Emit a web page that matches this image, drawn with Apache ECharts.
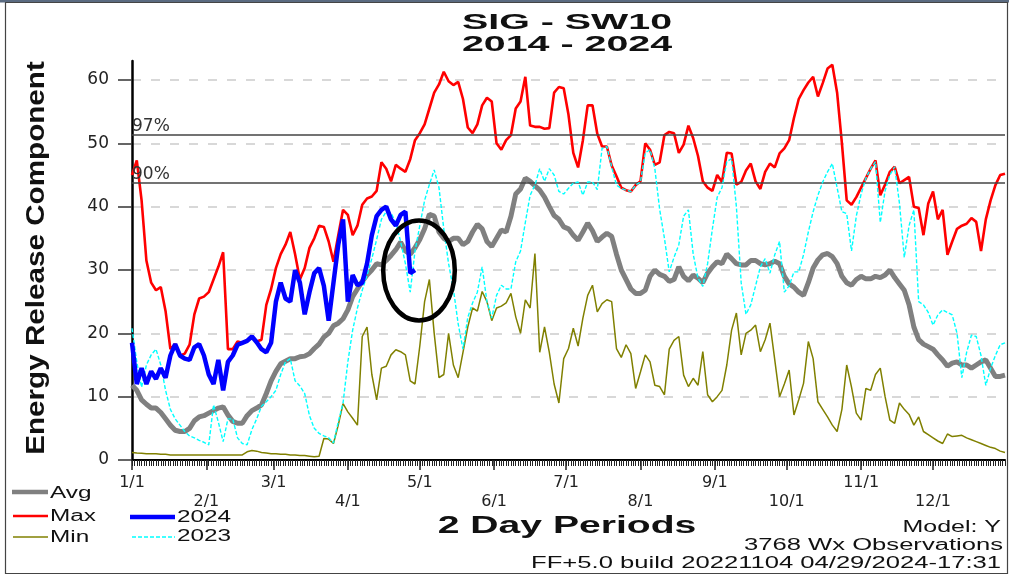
<!DOCTYPE html>
<html><head><meta charset="utf-8">
<script src="https://cdn.jsdelivr.net/npm/echarts@6/dist/echarts.min.js"></script>
<style>html,body{margin:0;padding:0;background:#fff}#c{width:1009px;height:578px}</style>
</head><body><div id="c"></div>
<script>
// ---------- data (2-day periods, Jan 1 .. Dec 31) ----------
const titleLine1 = 'SIG - SW10';
const titleLine2 = '2014 - 2024';
const yTickValues = [0, 10, 20, 30, 40, 50, 60];
const monthLabels = ['1/1','2/1','3/1','4/1','5/1','6/1','7/1','8/1','9/1','10/1','11/1','12/1'];
const monthStartDays = [0,31,59,90,120,151,181,212,243,273,304,334];
const percentileValues = [51.3, 43.8];
const percentileLabels = ['97%', '90%'];

const avgValues = [11.8,11,9.5,8.8,8.2,8.2,7.5,6.5,5.5,4.7,
4.5,4.5,5,6.2,6.8,7,7.4,7.8,8.2,8.4,
7.1,6.1,5.8,5.8,7,7.8,8.2,8.7,10.5,12.5,
14,15.2,15.6,16,16,16.3,16.4,16.8,17.6,18.3,
19.4,20,21.2,21.6,22.3,23.7,25.8,27,28.2,29.2,
30,31,30.8,31.5,32.3,33.2,34.4,33,32.5,33.5,
34.8,36.5,38.8,38.5,36,35,34.5,35,35,34,
34.5,36,37.2,36.5,34.5,33.7,35,36.3,36,38.5,
42,42.8,44.5,44,43.3,42.6,41.5,40,38.6,38,
36.8,36.5,35.5,34.7,36,37.4,36.2,34.5,35.2,35.8,
35.3,32.5,30,28.5,27,26.3,26.3,26.8,29,30,
29.3,29,28.2,28.5,30.5,29,28.3,29.2,28.7,28,
29.5,30.5,31.3,31,32.5,31.8,31,30.8,30.8,31.5,
31.5,31,30.8,31,31.4,31,29,27.8,27.3,26.5,
26,28,30.3,31.6,32.4,32.6,32.1,31,29,28,
27.6,28.5,29,28.6,28.6,29,28.8,29.2,30,28.8,
27.8,26.8,24.5,21,19,18.3,17.9,17.5,16.6,15.8,
14.8,15.3,15.5,15,15,14.5,15,15.5,15.8,14.5,
13.2,13.2,13.4];

const maxValues = [45,47.3,41,31.5,28,26.8,27.3,23.5,17.5,18.3,
16.5,16.8,18.2,23,25.5,25.8,26.5,28.5,30.5,32.8,
17.5,17.5,18.7,18.5,18.9,19.5,18.7,19,24.5,27,
30.3,32.5,34,36,32.5,28.5,30.3,33.5,35,37,
36.8,34.5,31.3,35.5,39.5,38.7,35.5,37,40.3,41.3,
41.6,42.5,47,46,44,46.6,46,45.5,47.5,50.5,
51.6,53,55.5,58,59.3,61.3,59.8,59.2,59.7,57,
52.5,51.6,53,56,57.2,56.6,50,49,50.5,51.3,
55.5,56.6,60.5,52.8,52.6,52.6,52.3,52.4,58,58.9,
58.7,54.5,48.5,46.2,50.5,56,56,51.5,49.5,49.5,
46.5,44.8,43,42.6,42.4,43.4,44,50,49,46.6,
47,51.3,51.8,51.6,48.5,49.8,52.8,50.8,48,44,
43,42.5,45,43.9,48.5,48.4,43.5,43.9,45.7,46.8,
44,42.8,45.5,46.8,46.2,48.4,49.2,50.5,54,57,
58.4,59.6,60.5,57.4,59.5,61.8,62.4,58,50,41,
40.3,41.5,43,44.5,46,47.3,41.8,43.5,45.5,46.3,
43.7,44.2,44.7,40,39.8,35.5,40.5,42.4,38,39.5,
32.4,34.5,36.5,37,37.3,38.2,37.6,33,38,41,
43.4,45,45.2];

const minValues = [1.2,1.1,1.05,1,1,1,0.9,0.9,0.8,0.8,
0.8,0.8,0.8,0.8,0.8,0.8,0.8,0.8,0.8,0.8,
0.8,0.8,0.8,0.8,1.3,1.5,1.4,1.2,1.1,1,
1,0.9,0.9,0.8,0.8,0.7,0.7,0.6,0.5,0.6,
3.4,3.3,2.6,5.5,8.9,7.6,6.6,5.5,19.5,21,
13.5,9.5,14.5,14.8,16.6,17.4,17.1,16.6,12.5,12,
18,25,28.5,20,13,13.5,20,15,13,17,
21,24,23.5,26.6,25,22,24,24.3,24.8,26.3,
22.6,20,25.3,24,32.6,17,21,17,12,9,
16,17.6,20.8,18,22.4,26,27.6,23.4,24.7,25.3,
25,17.6,16.2,18.2,16.8,11.3,13.9,16.6,15.5,11.8,
11.6,10.3,17.5,18.9,19.5,13.4,11.6,12.9,11.8,17.1,
10.3,9.2,10,11,15,20.5,23.2,16.6,20,20.5,
21.3,17.1,19,21.6,15.8,10,12,14.2,7.1,9.5,
12.1,18.7,16,9.2,8,6.8,5.5,4.5,8,15,
11.5,7.4,6.3,11.3,11,13.5,14.5,10,6.3,5.8,
9,8,7.2,5.5,6.8,4.5,4,3.5,3,2.6,
4.1,3.7,3.8,3.9,3.5,3.2,2.9,2.6,2.3,2,
1.8,1.4,1.2];

const values2023 = [20.8,15.5,11.5,15,16.6,17.5,15,11,8,6.5,
5.5,4.5,3.8,3.5,3.1,2.8,2.4,8.7,6,2.9,
6.5,6.5,3.5,2.6,2.4,4.8,6.5,8.5,9.2,10,
11,13.5,15.5,16,12.5,11.7,10.5,7,5,4.2,
3.8,3.5,2.7,6,9,15.5,20.5,24,26.8,29.2,
31.8,34.8,38,39.2,39,37.5,34.5,31,26.5,33,
37,41,43.5,45.8,43,36.5,31,27,21.5,17.5,
22.5,24.8,26.5,30.5,25,22.4,26,27.6,27,27,
31.3,33,37.5,41.8,43.4,46,44,46,45,42.4,
42,42.9,43.7,43.9,41.8,43.9,43.9,42.7,49.2,49.5,
46.3,43.4,42.9,42.6,42.4,43.4,43.9,48.5,49,46,
39.6,35,29.7,32,34,38.5,39.5,32.5,28.7,27.4,
31,36.5,41.5,43,47.1,47.6,40,28,23,24.5,
27.5,30.5,31.8,29.5,32.4,34.5,26.5,27.5,29.7,29.7,
32.4,36,39.2,41.8,43.9,45.5,46.8,43,39.2,38.9,
33,38.5,42,44.5,46,47.1,37.5,42.5,45,46.3,
40.5,32,37,39.5,25,24.5,23.3,21.3,22.9,23.7,
23.3,22.9,20,13,17,19.7,19.5,16.5,11.8,14.5,
16.5,18.2,18.5];

const values2024 = [18.5,12,14.5,12,14,12.8,14.5,13,16.5,18.3,
16.5,16,15.8,17.8,18.3,16.5,13.5,12,15.8,11,
15.5,16.5,18.2,18.5,18.8,19.5,18.6,17.5,17,18.5,
25,28,25.5,25,30,28,23,26.5,29.5,30.3,
27.5,22,28,34,38,25,29.2,27.6,28,31,
35.5,38.5,39.5,40,38,37,38.7,39.2,29.5,30];

// ---------- categories ----------
const periodCategories = avgValues.map((_, i) => 'P' + (i + 1));
const dayCategories = Array.from({length: 365}, (_, d) => 'D' + d);

const chart = echarts.init(document.getElementById('c'), null, {renderer: 'canvas'});
const monthIdx = (i) => monthStartDays.indexOf(i);
const labelFont = 'DejaVu Sans';

function lineSeries(name, data, color, width, type, z) {
  return {
    name, type: 'line', xAxisIndex: 0, yAxisIndex: 0, data,
    symbol: 'none', showSymbol: false, z,
    lineStyle: {color, width, type: type || 'solid'},
    emphasis: {disabled: true}, silent: true
  };
}

const avgSeries = lineSeries('Avg', avgValues, '#808080', 5, 'solid', 2);
avgSeries.markLine = {
  silent: true, symbol: ['none', 'none'], animation: false,
  lineStyle: {color: '#444', width: 1.5, type: 'solid'},
  label: {show: true, position: 'insideStartTop', formatter: '{b}', color: '#333',
          fontFamily: labelFont, fontSize: 17, distance: 0},
  data: percentileValues.map((v, i) => ({yAxis: v, name: percentileLabels[i]}))
};

const txt = (text, x, y, font, align, sx, extra) => Object.assign({
  type: 'text', x, y, scaleX: sx || 1, z: 100, silent: true,
  style: {text, font, fill: '#111', textAlign: align, textVerticalAlign: 'middle',
          align: align, verticalAlign: 'middle'}
}, extra || {});

const legendFont = '16px "Liberation Sans"';
const option = {
  animation: false,
  backgroundColor: '#fff',
  grid: [
    {left: 132, right: 4, top: 61, bottom: 118, outerBoundsMode: 'none', containLabel: false},
    {left: 132, right: 4, top: 80, bottom: 118, outerBoundsMode: 'none', containLabel: false}
  ],
  xAxis: [
    {gridIndex: 0, type: 'category', data: periodCategories, boundaryGap: false, show: false},
    // daily minor ticks (value axis in days)
    {gridIndex: 1, type: 'value', min: 0, max: dayCategories.length - 1, interval: 1, position: 'bottom',
     axisLine: {show: true, onZero: false, lineStyle: {color: '#000', width: 2}},
     axisTick: {show: true, length: 6, lineStyle: {color: '#222', width: 1}},
     axisLabel: {show: false}, splitLine: {show: false}},
    // month ticks + first label row
    {gridIndex: 1, type: 'category', data: dayCategories, boundaryGap: false, position: 'bottom',
     axisLine: {show: false, onZero: false},
     axisTick: {show: true, interval: (i) => monthIdx(i) >= 0, length: 10, lineStyle: {color: '#222', width: 1.5}},
     axisLabel: {show: true, interval: (i) => monthIdx(i) >= 0 && monthIdx(i) % 2 === 0,
                 formatter: (v, i) => monthLabels[monthIdx(i)] || '',
                 margin: 15, color: '#222', fontFamily: labelFont, fontSize: 16},
     splitLine: {show: false}},
    // second label row
    {gridIndex: 1, type: 'category', data: dayCategories, boundaryGap: false, position: 'bottom',
     axisLine: {show: false, onZero: false}, axisTick: {show: false},
     axisLabel: {show: true, interval: (i) => monthIdx(i) % 2 === 1,
                 formatter: (v, i) => monthLabels[monthIdx(i)] || '',
                 margin: 34, color: '#222', fontFamily: labelFont, fontSize: 16},
     splitLine: {show: false}}
  ],
  yAxis: [
    {gridIndex: 0, type: 'value', min: 0, max: 63,
     axisLine: {show: true, lineStyle: {color: '#000', width: 2.5}},
     axisTick: {show: false}, axisLabel: {show: false}, splitLine: {show: false}},
    {gridIndex: 1, type: 'value', min: yTickValues[0], max: yTickValues[yTickValues.length - 1], interval: 10,
     axisLine: {show: false},
     axisTick: {show: true, length: 14, lineStyle: {color: '#333', width: 1.5}},
     axisLabel: {show: true, margin: 23, color: '#222', fontFamily: labelFont, fontSize: 17,
                 verticalAlign: 'middle', padding: [0, 0, 12, 0]},
     splitLine: {show: true, lineStyle: {color: '#cccccc', width: 1.5, type: [9, 10]}}}
  ],
  series: [
    avgSeries,
    lineSeries('Max', maxValues, '#ff0000', 2.6, 'solid', 3),
    lineSeries('Min', minValues, '#808000', 1.5, 'solid', 4),
    lineSeries('2023', values2023, '#00ffff', 1.4, [4, 2], 5),
    lineSeries('2024', values2024, '#0000ff', 4.5, 'solid', 6)
  ],
  graphic: [
    {type: 'rect', shape: {x: 0, y: 0, width: 1009, height: 2.5}, style: {fill: '#5a6a80'}, z: 100, silent: true},
    {type: 'rect', shape: {x: 5.5, y: 2.5, width: 1002, height: 571}, style: {fill: 'none', stroke: '#444', lineWidth: 1.2}, z: 100, silent: true},
    txt(titleLine1, 567, 23, 'bold 22px "Liberation Sans"', 'center', 1.79, {}),
    txt(titleLine2, 567, 45, 'bold 22px "Liberation Sans"', 'center', 1.79, {}),
    txt('2 Day Periods', 567, 527, 'bold 23px "Liberation Sans"', 'center', 1.7, {}),
    txt('Energy Release Component', 37, 258, 'bold 26px "Liberation Sans"', 'center', 1.14, {rotation: Math.PI / 2}),
    // legend
    {type: 'line', shape: {x1: 12, y1: 492, x2: 48, y2: 492}, style: {stroke: '#808080', lineWidth: 4.5}, z: 100, silent: true},
    {type: 'line', shape: {x1: 13, y1: 516, x2: 48, y2: 516}, style: {stroke: '#ff0000', lineWidth: 2.5}, z: 100, silent: true},
    {type: 'line', shape: {x1: 13, y1: 537, x2: 48, y2: 537}, style: {stroke: '#808000', lineWidth: 1.5}, z: 100, silent: true},
    {type: 'line', shape: {x1: 130, y1: 517, x2: 175, y2: 517}, style: {stroke: '#0000ff', lineWidth: 4.5}, z: 100, silent: true},
    {type: 'line', shape: {x1: 132, y1: 537, x2: 175, y2: 537}, style: {stroke: '#00ffff', lineWidth: 1.5, lineDash: [4, 2]}, z: 100, silent: true},
    txt('Avg', 50, 494, legendFont, 'left', 1.52),
    txt('Max', 50, 517, legendFont, 'left', 1.52),
    txt('Min', 50, 537.5, legendFont, 'left', 1.52),
    txt('2024', 177, 517.5, legendFont, 'left', 1.52),
    txt('2023', 177, 537, legendFont, 'left', 1.52),
    // footer
    txt('Model: Y', 1001, 527.5, legendFont, 'right', 1.56),
    txt('3768 Wx Observations', 1003, 546, legendFont, 'right', 1.6),
    txt('FF+5.0 build 20221104 04/29/2024-17:31', 1001, 564, legendFont, 'right', 1.6),
    // annotation ellipse
    {type: 'ellipse', shape: {cx: 419, cy: 270.5, rx: 35.8, ry: 50}, style: {fill: 'none', stroke: '#000', lineWidth: 4.5}, z: 100, silent: true}
  ]
};
chart.setOption(option);
</script>
</body></html>
